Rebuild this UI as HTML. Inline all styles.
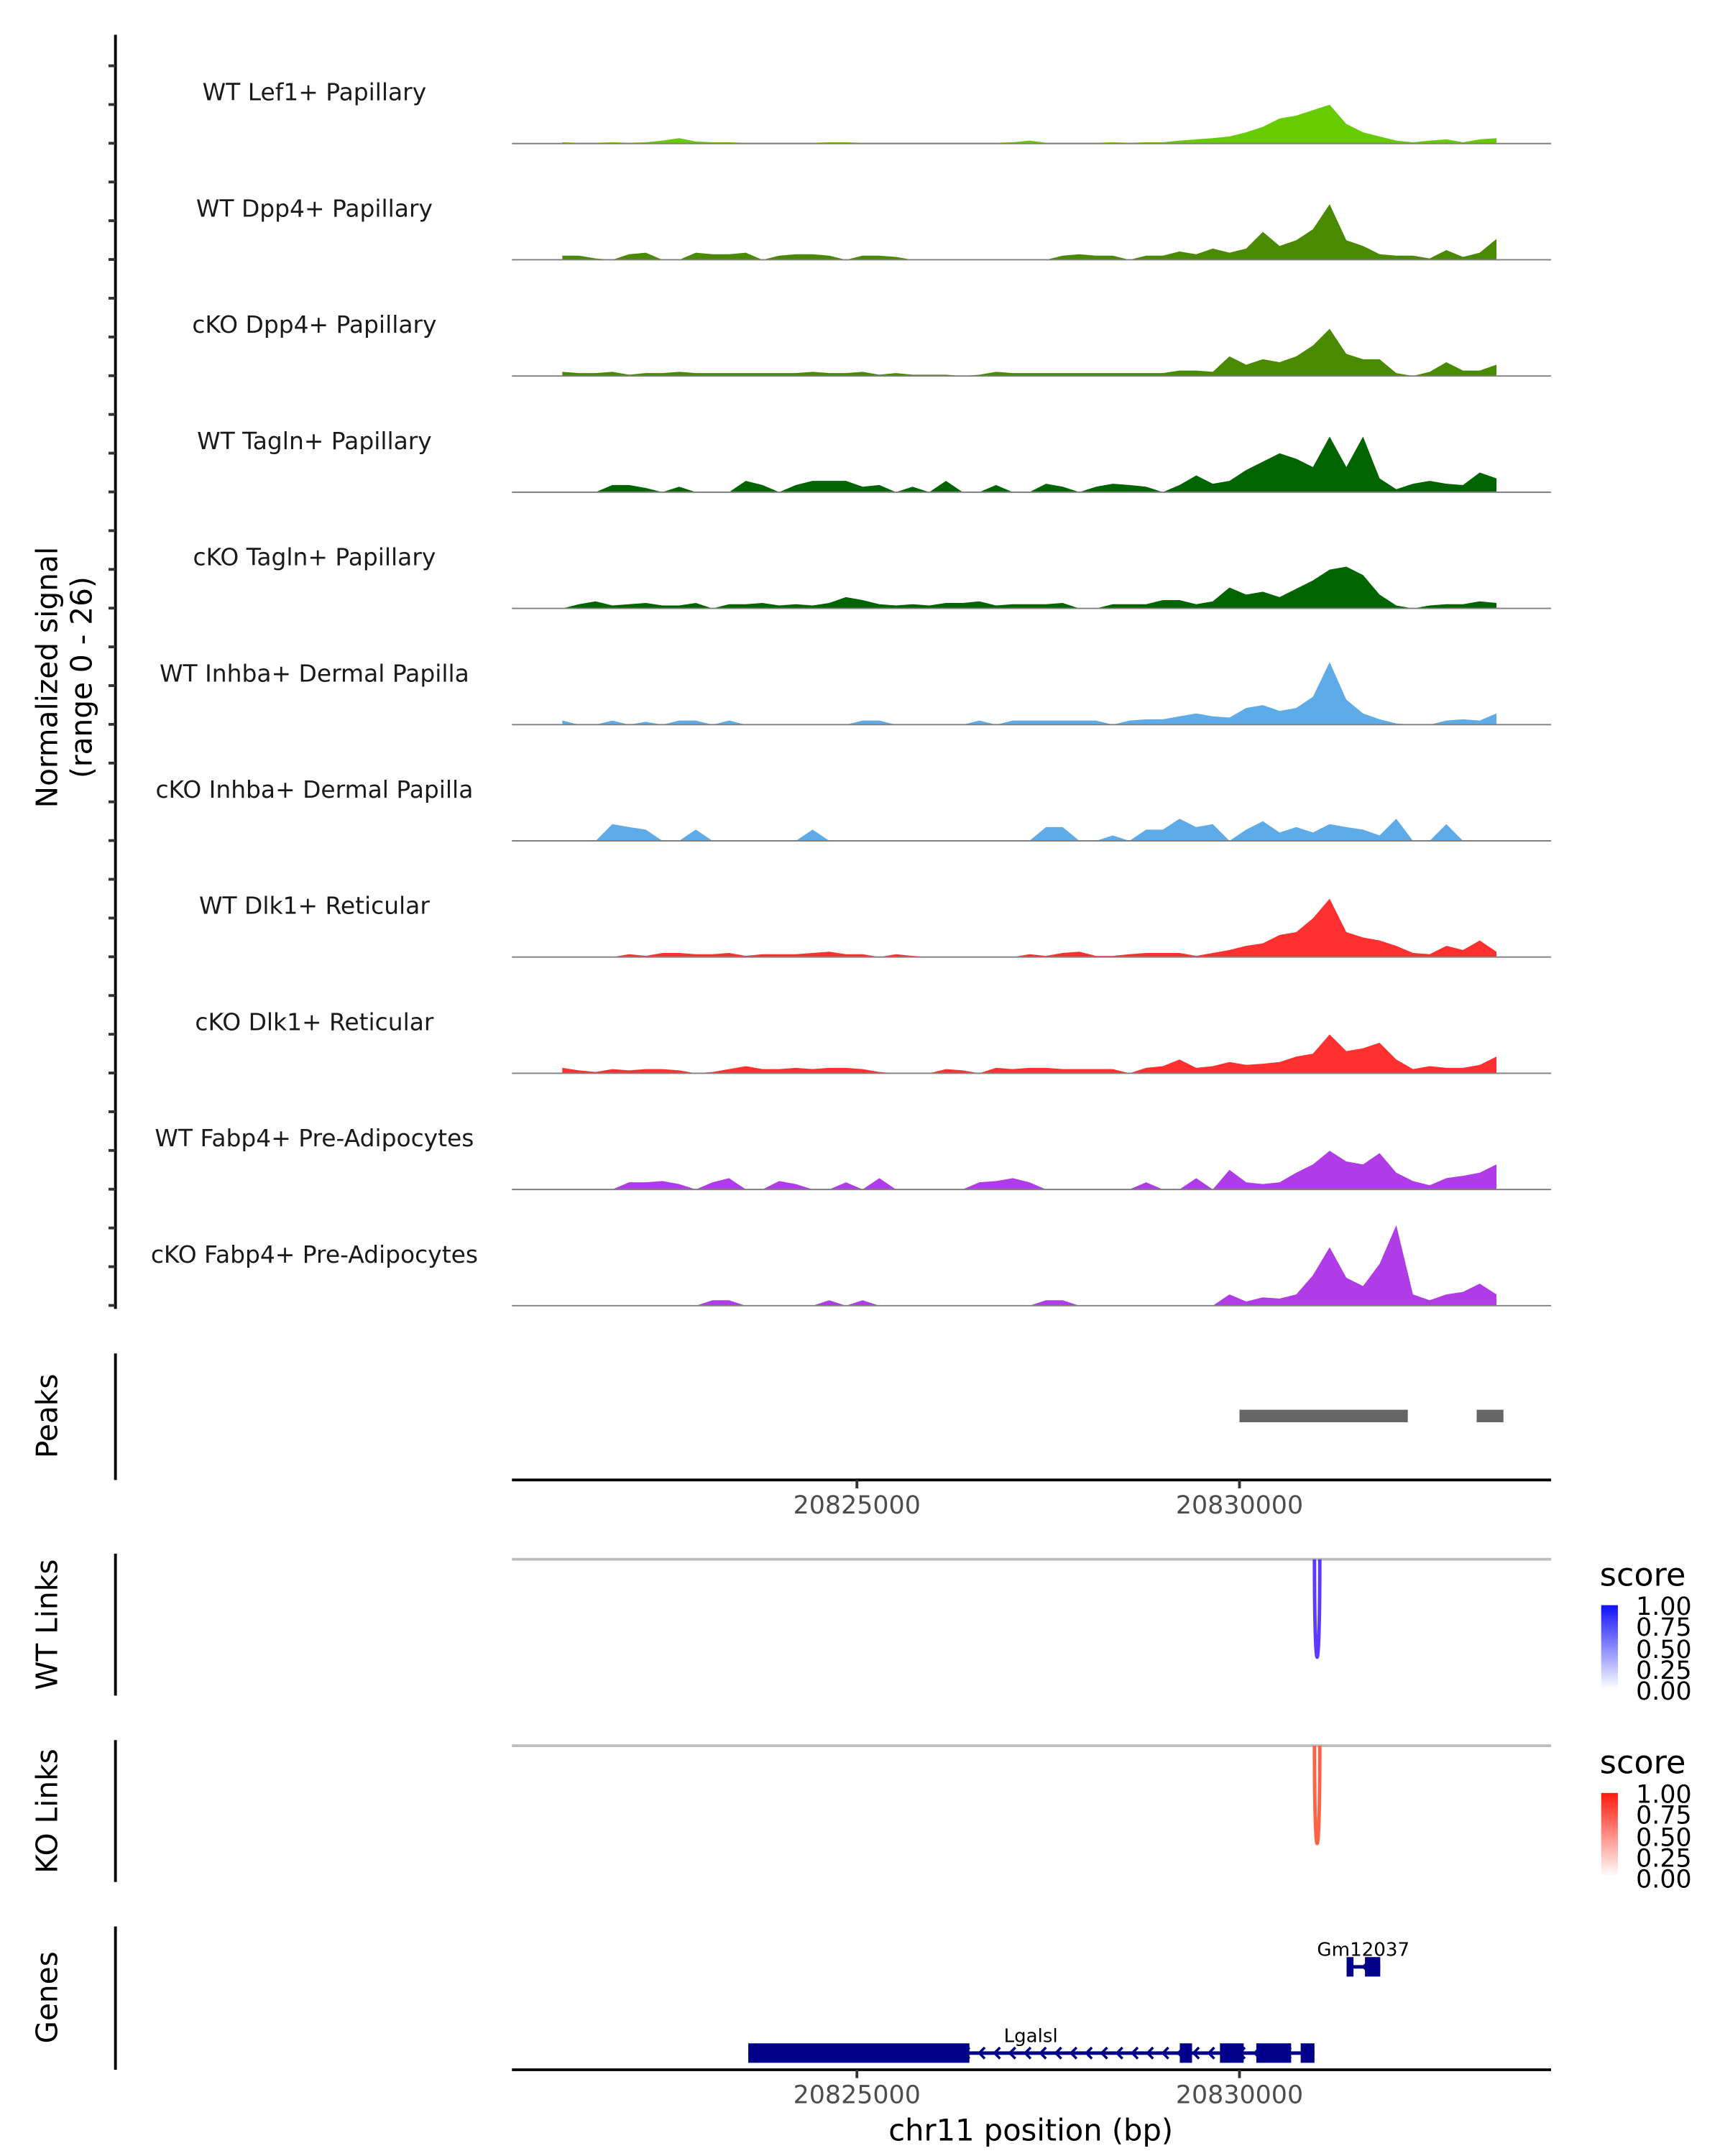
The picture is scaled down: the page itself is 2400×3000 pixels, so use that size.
<!DOCTYPE html>
<html><head><meta charset="utf-8"><style>
html,body{margin:0;padding:0;background:#fff;}
svg{display:block;font-family:"DejaVu Sans","Liberation Sans",sans-serif;}
</style></head><body>
<svg id="fig" width="2400" height="3000" viewBox="0 0 1240 1550" xmlns="http://www.w3.org/2000/svg">
<rect width="1240" height="1550" fill="#fff"/>
<g id="tracks"></g>
<line x1="83" y1="25" x2="83" y2="941" stroke="#000" stroke-width="2"/>
<g id="yticks"></g>
<text transform="translate(41,487) rotate(-90)" text-anchor="middle" font-size="21">Normalized signal</text>
<text transform="translate(66,487) rotate(-90)" text-anchor="middle" font-size="21">(range 0 - 26)</text>

<line x1="83" y1="973" x2="83" y2="1064" stroke="#000" stroke-width="2"/>
<text transform="translate(41,1018) rotate(-90)" text-anchor="middle" font-size="21">Peaks</text>
<g id="peaks"></g>
<line x1="368" y1="1064" x2="1115" y2="1064" stroke="#000" stroke-width="2"/>
<g id="xaxis1"></g>

<line x1="83" y1="1117" x2="83" y2="1219" stroke="#000" stroke-width="2"/>
<text transform="translate(41,1168) rotate(-90)" text-anchor="middle" font-size="21">WT Links</text>
<line x1="368" y1="1121" x2="1115" y2="1121" stroke="#bebebe" stroke-width="2"/>
<path id="wtlink" fill="none" stroke="#5a3cff" stroke-width="2.5"/>

<line x1="83" y1="1251" x2="83" y2="1353" stroke="#000" stroke-width="2"/>
<text transform="translate(41,1302) rotate(-90)" text-anchor="middle" font-size="21">KO Links</text>
<line x1="368" y1="1255" x2="1115" y2="1255" stroke="#bebebe" stroke-width="2"/>
<path id="kolink" fill="none" stroke="#ff6347" stroke-width="2.5"/>

<defs>
<linearGradient id="gb" x1="0" y1="1" x2="0" y2="0"><stop offset="0" stop-color="#fff"/><stop offset="1" stop-color="#1010ff"/></linearGradient>
<linearGradient id="gr" x1="0" y1="1" x2="0" y2="0"><stop offset="0" stop-color="#fff"/><stop offset="1" stop-color="#ff1a0a"/></linearGradient>
</defs>
<g>
<text x="1150" y="1140" font-size="23">score</text>
<rect x="1151" y="1154" width="12" height="60" fill="url(#gb)"/>
<g font-size="18">
<text x="1176" y="1161">1.00</text><text x="1176" y="1176">0.75</text><text x="1176" y="1192">0.50</text><text x="1176" y="1207">0.25</text><text x="1176" y="1222">0.00</text></g>
</g>
<g>
<text x="1150" y="1275" font-size="23">score</text>
<rect x="1151" y="1289" width="12" height="60" fill="url(#gr)"/>
<g font-size="18">
<text x="1176" y="1296">1.00</text><text x="1176" y="1311">0.75</text><text x="1176" y="1327">0.50</text><text x="1176" y="1342">0.25</text><text x="1176" y="1357">0.00</text></g>
</g>

<line x1="83" y1="1385" x2="83" y2="1488" stroke="#000" stroke-width="2"/>
<text transform="translate(41,1436) rotate(-90)" text-anchor="middle" font-size="21">Genes</text>
<g id="genes"></g>
<line x1="368" y1="1488" x2="1115" y2="1488" stroke="#000" stroke-width="2"/>
<g id="xaxis2"></g>
<text x="741" y="1539" text-anchor="middle" font-size="21.5">chr11 position (bp)</text>
</svg>
<script>
const trackNames = ["WT Lef1+ Papillary","WT Dpp4+ Papillary","cKO Dpp4+ Papillary","WT Tagln+ Papillary","cKO Tagln+ Papillary","WT Inhba+ Dermal Papilla","cKO Inhba+ Dermal Papilla","WT Dlk1+ Reticular","cKO Dlk1+ Reticular","WT Fabp4+ Pre-Adipocytes","cKO Fabp4+ Pre-Adipocytes"];
const trackColors = ["#66cc00","#4a8a00","#4a8a00","#006400","#006400","#5eabe8","#5eabe8","#ff3030","#ff3030","#b03ce8","#b03ce8"];
const binStart = 20821150;
const binSize = 218;
const sigLef1WT = [0.3,0.2,0.2,0.3,0.2,0.3,0.7,1.3,0.5,0.3,0.3,0.2,0.2,0.2,0.2,0.2,0.3,0.3,0.2,0.2,0.2,0.2,0.2,0.2,0.2,0.2,0.2,0.3,0.7,0.2,0.2,0.2,0.2,0.3,0.2,0.3,0.3,0.7,1,1.3,1.7,2.7,4,6,6.7,8,9.3,4.7,2.7,1.7,0.7,0.3,0.7,1,0.3,1,1.3];
const sigDpp4WT = [1,1,0.3,0,1.3,1.7,0,0,1.7,1.3,1.3,1.7,0,1,1.3,1.3,1,0,1,1,0.7,0,0,0,0,0,0,0,0,0,1,1.3,1,1,0,1,1,2,1.3,2.7,1.7,2.7,6.7,3.3,4.7,7.3,13.3,4.7,3.3,1.3,1,1,0.3,2.3,0.7,1.7,5];
const sigDpp4KO = [1,0.7,0.7,1,0.3,0.7,0.7,1,0.7,0.7,0.7,0.7,0.7,0.7,0.7,1,0.7,0.7,1,0.3,0.7,0.3,0.3,0.3,0,0.3,1,0.7,0.7,0.7,0.7,0.7,0.7,0.7,0.7,0.7,0.7,1.3,1.3,1,4.7,2.7,4,3.3,4.7,7.3,11.3,5.3,4,4,0.7,0,1,3.3,1.3,1.3,2.7];
const sigTaglnWT = [0,0,0,1.7,1.7,1,0,1.3,0,0,0,2.7,1.7,0,1.7,2.7,2.7,2.7,1.3,1.7,0,1.3,0,2.7,0,0,1.7,0,0,2,1.3,0,1.3,2,1.7,1.3,0,1.7,4,2,2.7,5.3,7.3,9.3,8,6,13.3,6,13.3,3.3,0.7,2,2.7,2,1.7,4.7,3.3];
const sigTaglnKO = [0,1,1.7,0.7,1,1.3,0.7,0.7,1.3,0,1,1,1.3,0.7,1,0.7,1.3,2.7,2,1,0.7,1,0.7,1.3,1.3,1.7,0.7,1,1,1,1.3,0,0,1,1,1,2,2,1,1.7,5,3.3,4,2.7,4.7,6.7,9.3,10,8,3.3,0.7,0,0.7,1,1,1.7,1.3];
const sigInhbaWT = [1,0,0,1,0,0.7,0,1,1,0,1,0,0,0,0,0,0,0,1,1,0,0,0,0,0,1,0,1,1,1,1,1,1,0,1,1.3,1.3,2,2.7,2,1.7,4,4.7,3.3,4,6.7,15,6,2.7,1.3,0.3,0,0,1,1.3,1,2.7];
const sigInhbaKO = [0,0,0,4,3.3,2.7,0,0,2.7,0,0,0,0,0,0,2.7,0,0,0,0,0,0,0,0,0,0,0,0,0,3.3,3.3,0,0,1.3,0,2.7,2.7,5.3,3.3,4,0,2.7,4.7,2,3.3,2,4,3.3,2.7,1.3,5.3,0,0,4,0,0,0];
const sigDlk1WT = [0,0,0,0,0.7,0.3,1,1,0.7,0.7,1,0.3,0.7,0.7,0.7,1,1.3,0.7,0.7,0,0.7,0.3,0,0,0,0,0,0,0.7,0.3,1,1.3,0.3,0.3,0.7,1,1,1,0.3,1,1.7,2.7,3.3,5.3,6,9.3,14,6,4.7,4,2.7,1,0.7,2.7,1.7,4,1.3];
const sigDlk1KO = [1.3,0.7,0.3,1,0.7,1,1,0.7,0,0.3,1,1.7,1,1,1.3,1,1.3,1.3,1,0.3,0,0,0,1,0.7,0,1.3,1,1.3,1.3,1,1,1,1,0,1.3,1.7,3.3,1.3,1.7,2.7,2,2.3,2.7,4,4.7,9.3,5.3,6,7.3,3.3,1,1.7,1.3,1.3,2,4];
const sigFabp4WT = [0,0,0,0,1.7,1.7,2,1.3,0,1.7,2.7,0,0,2,1.3,0,0,1.7,0,2.7,0,0,0,0,0,1.7,2,2.7,1.7,0,0,0,0,0,0,1.7,0,0,2.7,0,4.7,1.7,1.3,1.7,4,6,9.3,6.7,6,8.7,4,2,1,2.7,3.3,4,6];
const sigFabp4KO = [0,0,0,0,0,0,0,0,0,1.3,1.3,0,0,0,0,0,1.3,0,1.3,0,0,0,0,0,0,0,0,0,0,1.3,1.3,0,0,0,0,0,0,0,0,0,2.7,1,2,1.7,2.7,7.3,14,6.7,4.7,10,19.3,2.7,1.3,2.7,3.3,5.3,2.7];
const signals = [sigLef1WT,sigDpp4WT,sigDpp4KO,sigTaglnWT,sigTaglnKO,sigInhbaWT,sigInhbaKO,sigDlk1WT,sigDlk1KO,sigFabp4WT,sigFabp4KO];
const peakStarts = [20830000, 20833100];
const peakEnds = [20832200, 20833450];
const xTicks = [20825000, 20830000];
const xTickLabels = ["20825000","20830000"];
const wtLinkStart = 20830980, wtLinkEnd = 20831050, wtLinkScore = 0.8;
const koLinkStart = 20830980, koLinkEnd = 20831050, koLinkScore = 0.8;
const geneNames = ["Gm12037","Lgalsl"];
const geneStarts = [20831400, 20823580];
const geneEnds = [20831840, 20830980];
const exonStarts = [[20831400,20831640],[20823580,20829220,20829745,20830220,20830800]];
const exonEnds = [[20831490,20831840],[20826470,20829380,20830055,20830675,20830980]];

const NS="http://www.w3.org/2000/svg";
const xMin = 20820491, xMax = 20834073, pxL = 368, pxR = 1115;
function xs(bp){return pxL + (bp - xMin)/(xMax - xMin)*(pxR - pxL);}
const trackH = 83.55, firstBase = 103.2, yMax = 26, sigPx = 78;
function ys(v, base){return base - v/yMax*sigPx;}
function mk(tag, attrs, parent){const e=document.createElementNS(NS,tag);for(const k in attrs)e.setAttribute(k,attrs[k]);parent.appendChild(e);return e;}

const tracks=document.getElementById('tracks');
signals.forEach((arr,t)=>{
  const base = firstBase + t*trackH;
  const g = mk('g',{},tracks);
  
  
  const lab = mk('text',{x:226,y:base-31,'text-anchor':'middle','font-size':'17',fill:'#1a1a1a'},g);
  lab.textContent = trackNames[t];
  
  
  let pts = [];
  pts.push(xs(binStart).toFixed(1)+','+base);
  arr.forEach((v,i)=>{pts.push(xs(binStart+binSize*i).toFixed(1)+','+ys(v,base).toFixed(1));});
  pts.push(xs(binStart+binSize*(arr.length-1)).toFixed(1)+','+base);
  const area = mk('polygon',{points:pts.join(' '),fill:trackColors[t]},g);
  
  
  const bl = mk('line',{x1:pxL,x2:pxR,y1:base,y2:base,stroke:'#7f7f7f','stroke-width':1},g);
  
  
});
const yt=document.getElementById('yticks');
for(let k=0;k<=33;k++){
  const y = 938.5 - k*trackH/3;
  if(y<30) break;
  const tk = mk('line',{x1:78,x2:83,y1:y,y2:y,stroke:'#333','stroke-width':2},yt);
  
  
}
const pk=document.getElementById('peaks');
peakStarts.forEach((s,i)=>{
  const r = mk('rect',{x:xs(s),y:1013.5,width:xs(peakEnds[i])-xs(s),height:9,fill:'#666'},pk);
  
  
});
function axis(id, yLine){
  const g=document.getElementById(id);
  xTicks.forEach((t,i)=>{
    const tk = mk('line',{x1:xs(t),x2:xs(t),y1:yLine,y2:yLine+6,stroke:'#333','stroke-width':2},g);
    
    
    const tl = mk('text',{x:xs(t),y:yLine+24,'text-anchor':'middle','font-size':'18',fill:'#4d4d4d'},g);
    tl.textContent = xTickLabels[i];
    
    
  });
}
axis('xaxis1',1064); axis('xaxis2',1488);
function link(id, s, e, score, top, depthMax){
  const d = depthMax*score/0.75;
  const x1=xs(s), x2=xs(e);
  document.getElementById(id).setAttribute('d','M'+x1+' '+top+' C'+x1+' '+(top+d)+' '+x2+' '+(top+d)+' '+x2+' '+top);
}
link('wtlink', wtLinkStart, wtLinkEnd, wtLinkScore, 1121, 88);
link('kolink', koLinkStart, koLinkEnd, koLinkScore, 1255, 88);
const gg=document.getElementById('genes');
const geneY=[1414,1476];
const labelX=[980,741];
geneNames.forEach((n,i)=>{
  const y=geneY[i];
  const g=mk('g',{},gg);
  
  
  mk('line',{x1:xs(geneStarts[i]),x2:xs(geneEnds[i]),y1:y,y2:y,stroke:'#00008b','stroke-width':2.5},g);
  const x0=xs(geneStarts[i]), x1=xs(geneEnds[i]);
  for(let x=x0+12;x<x1-4;x+=11){
    mk('path',{d:'M'+(x+4)+' '+(y-4)+' L'+x+' '+y+' L'+(x+4)+' '+(y+4),fill:'none',stroke:'#00008b','stroke-width':1.8},g);
  }
  exonStarts[i].forEach((s,j)=>{
    const ex=mk('rect',{x:xs(s),y:y-7,width:xs(exonEnds[i][j])-xs(s),height:14,fill:'#00008b'},g);
    
    
  });
  const t=mk('text',{x:labelX[i],y:y-8,'text-anchor':'middle','font-size':'13.5'},g);
  t.textContent=n;
  
  
});
</script>
</body></html>
